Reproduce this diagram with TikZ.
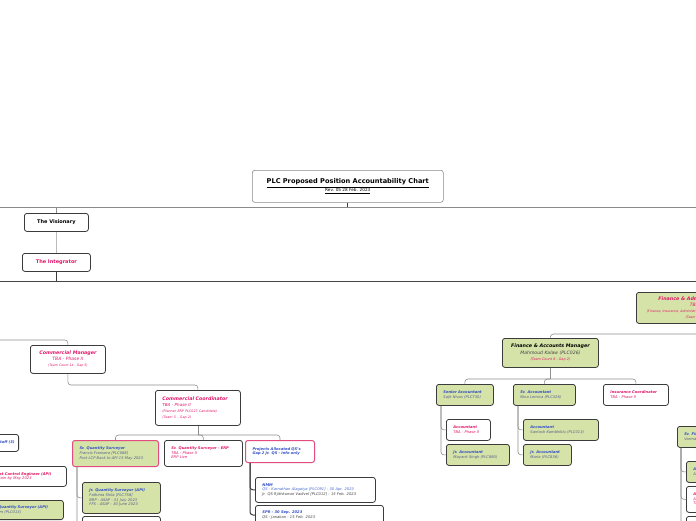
\documentclass[tikz,border=0pt]{standalone}
\usepackage{fontspec}
\setmainfont{DejaVu Sans}
\definecolor{pinkt}{HTML}{E2186A}
\definecolor{bluet}{HTML}{3350C8}
\definecolor{lbluet}{HTML}{4A6AD0}
\definecolor{gbt}{HTML}{56608C}
\definecolor{dgt}{HTML}{444444}
\definecolor{gfill}{HTML}{D5E2A8}
\definecolor{bdark}{HTML}{3C3C3C}
\definecolor{pbord}{HTML}{E24C80}
\definecolor{lgray}{HTML}{8E8E8E}
\definecolor{mgray}{HTML}{8A8A8A}
\definecolor{vlgray}{HTML}{BBBBBB}
\newcommand\fa{\fontsize{3.7pt}{4.6pt}\selectfont}
\newcommand\bfit[1]{{\bfseries\itshape #1}}
\newcommand\itx[1]{{\itshape #1}}
\newcommand\qB[1]{\textcolor{bluet}{\bfseries\itshape #1}}
\newcommand\qG[1]{\textcolor{gbt}{\itshape #1}}
\newcommand\qL[1]{\textcolor{lbluet}{\itshape #1}}
\newcommand\qD[1]{\textcolor{dgt}{\itshape #1}}
\newcommand\bx[7]{\pgfmathsetmacro\tw{#4-14}\node[#6,minimum width=#4pt,minimum height=#5pt,text width=\tw pt,align=left] (#1) at (#2,#3) {\begin{tabular}{@{}l@{}}#7\end{tabular}};}
\newcommand\bxc[7]{\node[#6,minimum width=#4pt,minimum height=#5pt,align=center] (#1) at (#2,#3) {\begin{tabular}{@{}c@{}}#7\end{tabular}};}
\begin{document}
\begin{tikzpicture}[x=1pt,y=-1pt,
  box/.style={draw=bdark,line width=0.8pt,rounded corners=2.5pt,inner xsep=7pt,inner ysep=0pt,anchor=north west,fill=white,font=\fa},
  gbox/.style={box,fill=gfill},
  conn/.style={draw=lgray,line width=0.6pt,rounded corners=3pt},
  dconn/.style={draw=bdark,line width=1pt,rounded corners=3pt}]
\useasboundingbox (0,0) rectangle (696,520);
\clip (0,0) rectangle (696,520);
\fill[white] (0,0) rectangle (696,520);

% ---------- nodes ----------
\bxc{tt}{252}{170}{191}{32}{box,draw=mgray,line width=0.6pt}{{\fontsize{6.6pt}{8pt}\selectfont\bfseries\underline{PLC Proposed Position Accountability Chart}}\\[3pt]{\fontsize{4.2pt}{5pt}\selectfont\underline{Rev. 05 28 Feb. 2023}}}
\bxc{vis}{24}{213}{64}{18}{box,font=\fontsize{5pt}{6pt}\selectfont\bfseries}{The Visionary}
\bxc{int}{22}{253}{68}{18}{box,text=pinkt,font=\fontsize{5pt}{6pt}\selectfont\bfseries}{The Integrator}

\bxc{cm}{30}{345}{75}{28}{box,text=pinkt,font=\fontsize{4.5pt}{6.3pt}\selectfont}{{\fontsize{4.8pt}{6pt}\selectfont\bfit{Commercial Manager}}\\\itx{TBA - Phase II}\\{\fontsize{3.2pt}{6pt}\selectfont\itx{(Team Count 14 - Gap 5)}}}
\bx{cc}{155}{390}{85}{35}{box,text=pinkt,font=\fontsize{4.1pt}{6pt}\selectfont}{{\fontsize{4.8pt}{6pt}\selectfont\bfit{Commercial Coordinator}}\\\itx{TBA - Phase II}\\{\fontsize{3.3pt}{6pt}\selectfont\itx{(Planner ERP PLC027 Candidate)}}\\{\fontsize{3.3pt}{6pt}\selectfont\itx{(Team 5 - Gap 2)}}}

\bx{srqs}{72}{440}{86}{26}{gbox,draw=pbord,line width=1pt}{\qB{Sr. Quantity Surveyor}\\\qG{Francis Fransera [PLC068]}\\\qG{Post LCP Back to API 15 May 2023}}
\bx{erp}{164}{440}{78}{26}{box,text=pinkt}{\bfit{Sr. Quantity Surveyor - ERP}\\\itx{TBA - Phase II}\\\itx{ERP Live}}
\bx{proj}{245}{440}{69}{22}{box,draw=pbord,line width=1pt,text=bluet}{\bfit{Projects Allocated QS's}\\\bfit{Gap 2 Jr. QS - Info only}}

\bx{jrqs}{82}{482}{78}{31}{gbox}{\qB{Jr. Quantity Surveyor (API)}\\\qG{Fathima Shila [PLC758]}\\\qG{BRP - ASAP - 31 July 2023}\\\qG{FFS - ASAP - 30 June 2023}}
\bx{qs4}{82}{516}{78}{20}{box}{}
\bx{nmm}{255}{477}{120}{25}{box}{\qB{NMM}\\\qL{QS - Karnathan Alagaiya [PLC091] - 30 Apr. 2023}\\\qD{Jr. QS Rjithkumar Vadivel [PLC012] - 15 Feb. 2023}}
\bx{spr}{255}{505}{128}{0}{box,inner ysep=5pt}{\qB{SPR - 30 Sep. 2023}\\\qD{QS - Janakan - 15 Feb. 2023}\\ }

% left, cut-off boxes
\node[box,anchor=north east,inner xsep=4pt,minimum height=17pt,text=bluet] (la) at (19,434) {\bfit{Quantity Surveyor Staff (3)}};
\bx{lb}{-13}{466}{79}{20}{box,text=pinkt}{\bfit{Cost Control Engineer (API)}\\\itx{Retain by May 2023}}
\bx{lc}{-15}{500}{78}{0}{gbox,inner ysep=5pt}{\qB{Jr. Quantity Surveyor (API)}\\\qG{Adam (PLC013)}\\ }

% finance side
\bxc{fadm}{636}{292}{138}{31}{gbox,text=pinkt,font=\fontsize{4.5pt}{6pt}\selectfont}{{\fontsize{4.8pt}{6pt}\selectfont\bfit{Finance \& Administration Manager}}\\\itx{TBA - Phase II}\\{\fontsize{3.2pt}{6pt}\selectfont\itx{(Finance, Insurance, Administration, Procurement, IT \& HR Departments)}}\\{\fontsize{3.2pt}{6pt}\selectfont\itx{(Team Count 16 - Gap 6)}}}
\bxc{fam}{502}{338}{96}{29}{gbox,font=\fontsize{4.6pt}{6.3pt}\selectfont}{{\fontsize{4.8pt}{6pt}\selectfont\bfit{Finance \& Accounts Manager}}\\{\color{dgt}\itx{Mahmoud Kalaw (PLC026)}}\\{\fontsize{3.4pt}{6pt}\selectfont\color{pinkt}\itx{(Team Count 8 - Gap 2)}}}

\bx{sacc}{436}{384}{57}{21}{gbox}{\qB{Senior Accountant}\\\qG{Sajit Nivas (PLC730)}}
\bx{sracc}{513}{384}{62}{21}{gbox}{\qB{Sr. Accountant}\\\qG{Nina Lemica (PLC326)}}
\bx{ins}{603}{384}{65}{21}{box,text=pinkt}{\bfit{Insurance Coordinator}\\\itx{TBA - Phase II}}
\bx{acc1}{446}{419}{44}{21}{box,text=pinkt}{\bfit{Accountant}\\\itx{TBA - Phase II}}
\bx{jacc1}{446}{444}{63}{21}{gbox}{\qB{Jr. Accountant}\\\qG{Mayank Singh (PLC880)}}
\bx{acc2}{523}{419}{75}{21}{gbox}{\qB{Accountant}\\\qG{Santosh Kambhiklu (PLC013)}}
\bx{jacc2}{523}{444}{48}{21}{gbox}{\qB{Jr. Accountant}\\\qG{Maria (PLC836)}}

\bx{sfin}{677}{426}{80}{21}{gbox}{\qB{Sr. Finance Officer}\\\qG{Varma (PLC041)}}
\bx{r1}{686}{461}{70}{21}{gbox}{\qB{Accountant}\\\qG{Anand (PLC045)}}
\bx{r2}{686}{486}{70}{26}{box,text=pinkt}{\bfit{Accountant}\\\itx{AP / AR}\\\itx{TBA - Phase II}}
\bx{r3}{686}{516}{70}{20}{box}{}

% ---------- connectors ----------
\coordinate (tl) at (0,207); \coordinate (tr) at (696,207);
\draw[conn,draw=mgray] (tl) -- (tr);
\draw[conn,draw=bdark,line width=0.8pt] (tt.south) -- (tt.south |- tl);
\draw[conn] (vis.north |- tl) -- (vis.north);
\draw[conn,draw=vlgray,line width=1pt] (vis.south) -- (int.north);
\coordinate (ml) at (0,281); \coordinate (mr) at (696,281);
\draw[dconn] (int.south) -- (int.south |- ml);
\draw[dconn,draw=dgt] (ml) -- (mr);

\coordinate (cmb) at (0,340);
\draw[conn] (cmb) -| (cm.north);
\coordinate (ccb) at (0,385);
\draw[conn] (cm.south) |- (ccb -| cc.north) -- (cc.north);
\coordinate (b3) at (0,435);
\draw[conn] (cc.south) -- (cc.south |- b3);
\foreach \c in {srqs,erp,proj} \draw[conn] (cc.south |- b3) -| (\c.north);

\draw[conn] ([xshift=5pt]srqs.south west) |- (jrqs.west);
\draw[conn] ([xshift=5pt]srqs.south west) |- (qs4.west);
\draw[dconn] ([xshift=5pt]proj.south west) |- (nmm.west);
\draw[dconn] ([xshift=5pt]proj.south west) |- (spr.west);

\coordinate (fb) at (696,334);
\draw[conn] (fb) -| (fam.north);
\coordinate (fb2) at (0,379);
\draw[conn] (fam.south) -- (fam.south |- fb2);
\foreach \c in {sacc,sracc,ins} \draw[conn] (fam.south |- fb2) -| (\c.north);
\draw[conn] ([xshift=5pt]sacc.south west) |- (acc1.west);
\draw[conn] ([xshift=5pt]sacc.south west) |- (jacc1.west);
\draw[conn] ([xshift=5pt]sracc.south west) |- (acc2.west);
\draw[conn] ([xshift=5pt]sracc.south west) |- (jacc2.west);
\draw[conn] ([xshift=4pt]sfin.south west) |- (r1.west);
\draw[conn] ([xshift=4pt]sfin.south west) |- (r2.west);
\draw[conn] ([xshift=4pt]sfin.south west) |- (r3.west);
\end{tikzpicture}
\end{document}
